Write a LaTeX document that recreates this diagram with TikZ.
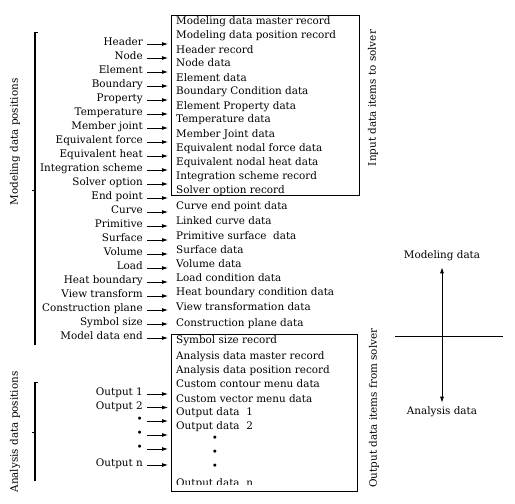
\documentclass[tikz,border=0pt]{standalone}
\usepackage{fontspec}
\setmainfont{DejaVu Serif}
\usetikzlibrary{arrows.meta}
\tikzset{
  txt/.style={inner sep=0pt, font=\fontsize{10.4}{12}\selectfont},
  lbl/.style={txt, anchor=base east},
  row/.style={txt, anchor=base west},
  rot/.style={txt, rotate=90},
  arr/.style={line width=0.8pt, -{Latex[length=6pt,width=4pt]}},
  boxst/.style={draw, line width=0.8pt, inner sep=0pt, anchor=north west},
  brk/.style={line width=1.6pt},
  tick/.style={line width=0.8pt}
}
\begin{document}
\begin{tikzpicture}[x=1pt,y=-1pt]
\useasboundingbox (0,0) rectangle (515,504);
% boxes
\node[boxst, minimum width=188pt, minimum height=180pt] (box1) at (171,15) {};
\node[boxst, minimum width=186pt, minimum height=157pt] (box2) at (171,334) {};
% right rows
\foreach \t/\y [count=\i] in {
 Modeling data master record/21,
 Modeling data position record/35,
 Header record/49.5,
 Node data/63,
 Element data/77.5,
 Boundary Condition data/91,
 Element Property data/105.5,
 Temperature data/119,
 Member Joint data/133.5,
 Equivalent nodal force data/147.5,
 Equivalent nodal heat data/162,
 Integration scheme record/176,
 Solver option record/190,
 Curve end point data/205.7,
 Linked curve data/221,
 Primitive surface\ \ data/236,
 Surface data/250,
 Volume data/264,
 Load condition data/278,
 Heat boundary condition data/292,
 Construction plane data/323,
 Symbol size record/340,
 Analysis data master record/355.5,
 Analysis data position record/370,
 Custom contour menu data/384,
 Custom vector menu data/398.5,
 Output data\ \ 1/411.5,
 Output data\ \ 2/426}
 { \node[row] (r\i) at (176,\y+3.7) {\t}; }
\node[row] (rview) at (176,307+3.7) {View transformation data};
\foreach \y [count=\i] in {439,453,467}
 { \node[txt] (rd\i) at (215,\y) {\textbullet}; }
\begin{scope}
  \clip (171,334) rectangle (357,484.5);
  \node[row] (rn) at (176,482.7+3.7) {Output data\ \ n};
\end{scope}
% left labels with arrows
\foreach \t/\y [count=\i] in {
 Header/42, Node/56, Element/70, Boundary/84, Property/98,
 Temperature/112, Member joint/126, Equivalent force/140,
 Equivalent heat/154, Integration scheme/168, Solver option/182,
 End point/196, Curve/210, Primitive/224, Surface/238, Volume/252,
 Load/266, Heat boundary/280, View transform/294,
 Construction plane/308, Symbol size/322, Model data end/336,
 Output 1/392, Output 2/405.5, \textbullet/419, \textbullet/433,
 \textbullet/447, Output n/463}
 {
  \node[lbl] (l\i) at (143,\y+3.7) {\t};
  \draw[arr] ([xshift=4pt,yshift=1.7pt]l\i.base east) --
             ([xshift=-3pt,yshift=1.7pt]l\i.base east -| box1.west);
 }
% brackets
\draw[brk] (35,345) -- (35,32);
\draw[tick] (35,32.4) -- (37.5,32.4);
\draw[tick] (31.5,190) -- (35,190);
\draw[brk] (35,481) -- (35,382);
\draw[tick] (35,382.4) -- (37.5,382.4);
\draw[tick] (31.5,432) -- (35,432);
% rotated labels
\node[rot] (mdp) at (15,142) {Modeling data positions};
\node[rot] (adp) at (15,432) {Analysis data positions};
\node[rot] (ids) at (373,98) {Input data items to solver};
\node[rot] (ods) at (374,408) {Output data items from solver};
% right legend
\node[txt] (md) at (442,256) {Modeling data};
\node[txt] (ad) at (442,412) {Analysis data};
\draw[line width=0.8pt, {Latex[length=6pt,width=4pt]}-{Latex[length=6pt,width=4pt]}]
  ([yshift=-6pt]md.south) -- ([yshift=4pt]ad.north);
\coordinate (hl) at (395,336);
\coordinate (hr) at (503,336);
\draw[line width=0.8pt] (hl) -- (hr);
\end{tikzpicture}
\end{document}
